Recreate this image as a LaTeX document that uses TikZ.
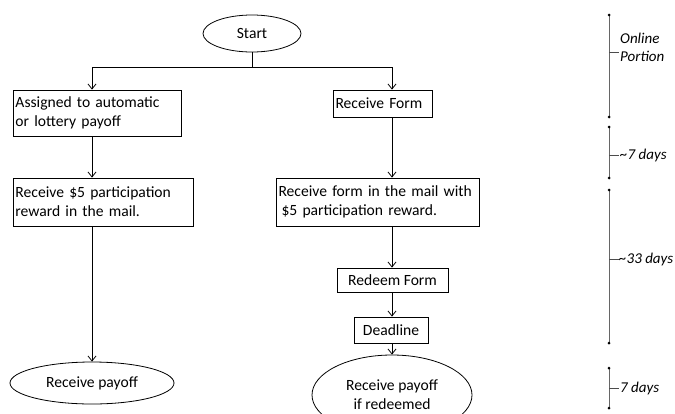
\documentclass[tikz,border=0pt]{standalone}
\usepackage{fontspec}
\setmainfont{Carlito}
\usetikzlibrary{arrows.meta,shapes.geometric}
\begin{document}
\begin{tikzpicture}[x=1pt,y=-1pt,
  every node/.style={font=\fontsize{15.6}{19}\selectfont},
  box/.style={draw, rectangle, line width=0.8pt, inner xsep=2.5pt, inner ysep=0pt, align=left},
  cbox/.style={draw, rectangle, line width=0.8pt, inner sep=0pt, align=center},
  oval/.style={draw, ellipse, line width=0.8pt, inner sep=0pt, align=center},
  arr/.style={line width=0.8pt, -{Straight Barb[length=5pt,width=8pt,line width=0.8pt]}},
  link/.style={line width=0.8pt},
  tl/.style={line width=1pt, draw=black!60},
  tick/.style={line width=1pt, draw=black!70},
  lbl/.style={anchor=west, align=left, font=\fontsize{15}{18}\selectfont\itshape, inner sep=0pt}]
\useasboundingbox (0,0) rectangle (675,413);
\clip (0,0) rectangle (675,413);

% column positions
\coordinate (L) at (92,0);
\coordinate (R) at (392,0);

% nodes
\node[oval, minimum width=98pt, minimum height=37pt] (start) at (252,33.5) {Start};
\node[box, text width=163pt, minimum height=46pt] (b1) at (97,113) {\mbox{Assigned to automatic}\\\mbox{or lottery payoff}};
\node[box, text width=94pt, minimum height=27pt] (rf) at (382.5,103.5) {\mbox{Receive Form}};
\node[box, text width=175pt, minimum height=48pt] (b3) at (103,202) {\mbox{Receive \$5 participation}\\\mbox{reward in the mail.}};
\node[box, text width=198pt, minimum height=48pt] (b4) at (377.5,202) {\mbox{Receive form in the mail with}\\\mbox{\hspace{3pt}\$5 participation reward.}};
\node[cbox, minimum width=111pt, minimum height=24pt] (rd) at (392.5,280) {Redeem Form};
\node[cbox, minimum width=74pt, minimum height=26pt] (dl) at (391,330) {Deadline};
\node[oval, minimum width=164pt, minimum height=42pt] (e1) at (92,383) {Receive payoff};
\node[oval, minimum width=160pt, minimum height=80pt] (e2) at (392,395) {Receive payoff\\if redeemed};

% connectors
\coordinate (split) at (252,67);
\draw[link] (start.south) -- (split);
\draw[link] (split) -- (split -| L);
\draw[link] (split) -- (split -| R);
\draw[arr] (split -| L) -- (b1.north -| L);
\draw[arr] (split -| R) -- (rf.north -| R);
\draw[arr] (b1.south -| L) -- (b3.north -| L);
\draw[arr] (rf.south -| R) -- (b4.north -| R);
\draw[arr] (b3.south -| L) -- (e1.north -| L);
\draw[arr] (b4.south -| R) -- (rd.north -| R);
\draw[arr] (rd.south -| R) -- (dl.north -| R);
\draw[arr] (dl.south -| R) -- (e2.north -| R);

% timeline
\foreach \a/\b/\t [count=\i] in {15/117/52, 127/178/155, 190/343/259, 368/408/388}{
  \coordinate (t\i a) at (609,\a);
  \coordinate (t\i b) at (609,\b);
  \coordinate (t\i m) at (609,\t);
  \coordinate (t\i e) at (619,\t);
  \draw[tl] (t\i a) -- (t\i b);
  \fill (t\i a) circle (1.5pt);
  \fill (t\i b) circle (1.5pt);
  \draw[tick] (t\i m) -- (t\i e);
}
\node[lbl] (lab1) at (620,47) {Online\\Portion};
\node[lbl] (lab2) at (620,155) {\textasciitilde7 days};
\node[lbl] (lab3) at (619,259) {\textasciitilde33 days};
\node[lbl] (lab4) at (620,388) {7 days};
\end{tikzpicture}
\end{document}
